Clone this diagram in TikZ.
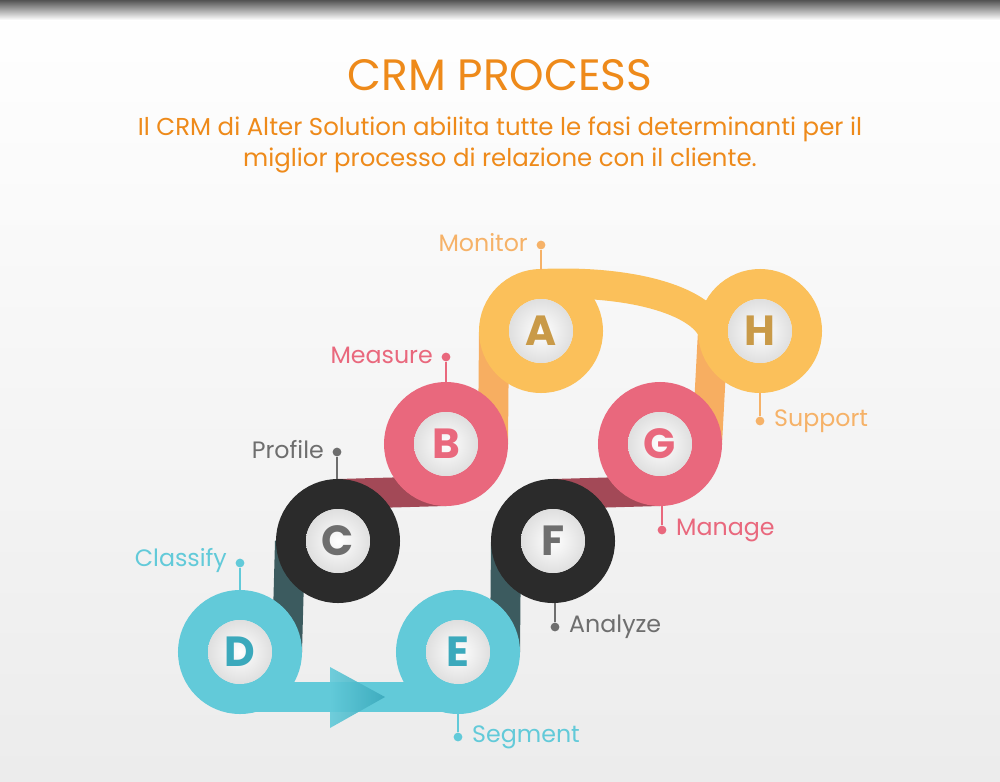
\documentclass[tikz,border=0pt]{standalone}
\usepackage{fontspec}
\setmainfont{Poppins}
\begin{document}
\begin{tikzpicture}[x=0.02cm,y=-0.02cm,
  rib/.style={line width=0.6cm},
  ring/.style={line width=0.6cm},
  inner/.style={circle,minimum size=1.28cm,inner sep=0,shading=radial,inner color=white,outer color=gray!25,font=\bfseries\fontsize{24}{24}\selectfont},
  lbl/.style={font=\fontsize{13.5}{13.5}\selectfont},
  pin/.style={line width=1pt},
  dotc/.style={circle,inner sep=0,minimum size=5pt}]
\definecolor{cy}{HTML}{62CAD9}
\definecolor{cyd}{HTML}{3BA9BC}
\definecolor{bk}{HTML}{2B2B2B}
\definecolor{rd}{HTML}{E9687D}
\definecolor{yl}{HTML}{FBC05A}
\definecolor{org}{HTML}{EE8A1A}
\definecolor{gy}{HTML}{6E6E6E}
\definecolor{lor}{HTML}{F6B268}
\useasboundingbox (0,0) rectangle (1000,781);
\shade[top color=white,bottom color=gray!15] (0,0) rectangle (1000,781);
\shade[top color=gray!65!black,bottom color=white] (0,0) rectangle (1000,20);
% title
\node[text=org,font=\fontsize{25}{25}\selectfont] (title) at (500,75) {CRM PROCESS};
\node[text=org,font=\fontsize{13.9}{17.5}\selectfont,align=center] (sub) at (500,145) {Il CRM di Alter Solution abilita tutte le fasi determinanti per il\\miglior processo di relazione con il cliente.};
% centres
\coordinate (A) at (541,331); \coordinate (B) at (446,444);
\coordinate (C) at (338,541); \coordinate (D) at (240,652);
\coordinate (E) at (458,652); \coordinate (F) at (553,541);
\coordinate (G) at (660,444); \coordinate (H) at (760,331);
% ribbons
\draw[rib,cy] (240,697) -- (458,697);
\shade[left color=cy,right color=cyd,opacity=0.9] (330,667) -- (385,697) -- (330,728) -- cycle;
\draw[rib,draw=bk!70!cy] (287,652) -- (290,541);
\draw[rib,draw=bk!70!cy] (505,652) -- (506,541);
\draw[rib,rd!70!black] (338,494) -- (446,491);
\draw[rib,rd!70!black] (553,494) -- (660,491);
\draw[rib,yl!80!rd] (494,331) -- (493,444);
\draw[rib,yl!80!rd] (713,331) -- (707,444);
\draw[rib,yl] (541,284) .. controls (630,280) and (700,300) .. (713,331);
% rings
\draw[ring,cy] (D) circle (47); \draw[ring,cy] (E) circle (47);
\draw[ring,bk] (C) circle (47); \draw[ring,bk] (F) circle (47);
\draw[ring,rd] (B) circle (47); \draw[ring,rd] (G) circle (47);
\draw[ring,yl] (A) circle (47); \draw[ring,yl] (H) circle (47);
\node[inner,text=yl!80!black] (nA) at (A) {A};
\node[inner,text=rd] (nB) at (B) {B};
\node[inner,text=gy] (nC) at (C) {C};
\node[inner,text=cyd] (nD) at (D) {D};
\node[inner,text=cyd] (nE) at (E) {E};
\node[inner,text=gy] (nF) at (F) {F};
\node[inner,text=rd] (nG) at (G) {G};
\node[inner,text=yl!80!black] (nH) at (H) {H};
% labels
\node[dotc,fill=lor] (dA) at (541,245) {}; \coordinate (eA) at (541,270);
\draw[pin,lor] (dA) -- (eA); \node[lbl,text=lor,anchor=east] (lA) at (534,243) {Monitor};
\node[dotc,fill=rd] (dB) at (446,357) {}; \coordinate (eB) at (446,382);
\draw[pin,rd] (dB) -- (eB); \node[lbl,text=rd,anchor=east] (lB) at (439,355) {Measure};
\node[dotc,fill=gy] (dC) at (337,452) {}; \coordinate (eC) at (337,479);
\draw[pin,gy] (dC) -- (eC); \node[lbl,text=gy,anchor=east] (lC) at (330,450) {Profile};
\node[dotc,fill=cy] (dD) at (240,563) {}; \coordinate (eD) at (240,590);
\draw[pin,cy] (dD) -- (eD); \node[lbl,text=cy,anchor=east] (lD) at (233,560) {Classify};
\node[dotc,fill=cy] (dE) at (458,737) {}; \coordinate (eE) at (458,712);
\draw[pin,cy] (dE) -- (eE); \node[lbl,text=cy,anchor=west] (lE) at (466,737) {Segment};
\node[dotc,fill=gy] (dF) at (555,627) {}; \coordinate (eF) at (555,603);
\draw[pin,gy] (dF) -- (eF); \node[lbl,text=gy,anchor=west] (lF) at (563,627) {Analyze};
\node[dotc,fill=rd] (dG) at (662,530) {}; \coordinate (eG) at (662,506);
\draw[pin,rd] (dG) -- (eG); \node[lbl,text=rd,anchor=west] (lG) at (670,530) {Manage};
\node[dotc,fill=lor] (dH) at (760,421) {}; \coordinate (eH) at (760,393);
\draw[pin,lor] (dH) -- (eH); \node[lbl,text=lor,anchor=west] (lH) at (768,421) {Support};
\end{tikzpicture}
\end{document}
